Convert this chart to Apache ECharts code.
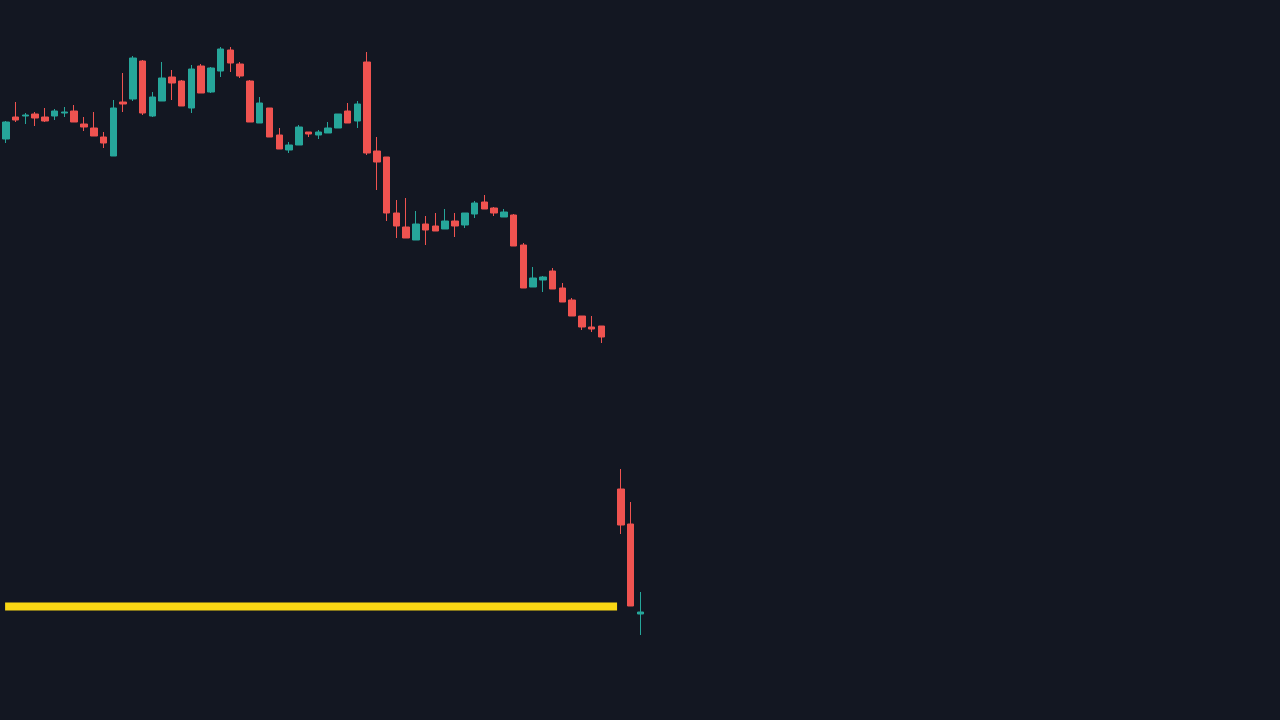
<!DOCTYPE html>
<html>
<head>
<meta charset="utf-8">
<script src="https://cdn.jsdelivr.net/npm/echarts@6/dist/echarts.min.js"></script>
<style>
html,body{margin:0;padding:0;background:#131722;}
#chart{width:1280px;height:720px;}
</style>
</head>
<body>
<div id="chart"></div>
<script>
// Slot count on the time axis (bars + empty right margin)
const slotCount = 131;
const categories = Array.from({length: slotCount}, (_, i) => String(i + 1));

const opens  = [58.1,60.3,60.4,60.6,60.3,60.4,60.7,60.9,59.6,59.2,58.3,56.4,61.8,62.1,65.9,60.4,61.9,64.3,63.9,61.2,
                65.4,62.8,64.9,67.0,65.6,63.9,59.7,61.2,58.5,57.0,57.5,58.8,58.5,58.7,59.2,60.9,59.9,65.8,56.9,56.3,
                50.7,49.3,48.0,49.6,49.4,49.1,49.9,49.5,50.6,51.8,51.2,50.3,50.5,47.5,43.3,44.0,44.9,43.2,42.0,40.4,
                39.3,39.4,null,23.1,19.6,10.6];
const closes = [59.8,60.0,60.5,60.2,59.9,60.9,60.8,59.8,59.3,58.4,57.7,61.2,61.6,66.2,60.7,62.3,64.2,63.7,61.4,65.1,
                62.7,65.2,67.1,65.7,64.4,59.8,61.7,58.3,57.1,57.5,59.3,58.6,58.8,59.2,60.6,59.7,61.6,56.7,55.8,50.7,
                49.4,48.2,49.6,49.0,48.9,49.9,49.4,50.7,51.7,51.1,50.7,50.8,47.4,43.2,44.2,44.3,43.1,41.8,40.4,39.3,
                39.1,38.3,null,19.5,11.4,10.8];
const lows   = [57.7,59.8,59.6,59.4,59.8,60.0,60.3,59.8,58.9,58.4,57.2,56.4,60.8,61.9,60.5,60.3,61.9,62.0,61.4,60.7,
                62.7,62.7,64.3,64.8,64.2,59.8,59.7,58.3,57.1,56.7,57.5,58.3,58.1,58.7,59.2,59.7,59.2,56.5,53.0,49.9,
                48.2,48.2,48.0,47.5,48.9,49.1,48.3,49.2,50.2,51.1,50.4,50.3,47.4,43.2,43.3,42.8,43.1,41.8,40.4,39.0,
                38.8,37.7,null,18.6,11.4,8.5];
const highs  = [59.9,61.8,60.7,60.8,61.2,61.1,61.3,61.5,60.3,60.8,58.8,62.0,64.7,66.4,66.0,62.8,65.8,65.0,64.0,65.5,
                65.6,65.3,67.3,67.3,65.8,64.0,62.3,61.2,59.2,57.8,59.5,58.8,59.0,59.8,60.6,61.7,61.9,66.8,58.3,56.3,
                52.0,52.2,50.9,50.4,50.7,51.1,50.7,50.7,51.9,52.5,51.3,51.1,50.6,47.7,45.3,44.4,45.2,43.7,42.2,40.4,
                40.4,39.4,null,25.1,21.8,12.8];

// Horizontal yellow level: price and the span (in slot units) it covers
const levelPrice = 11.35;
const levelStart = -0.08;
const levelEnd = 62.6;

const candleData = opens.map((o, i) =>
  o === null ? '-' : [o, closes[i], lows[i], highs[i]]);

const chart = echarts.init(document.getElementById('chart'));
chart.setOption({
  backgroundColor: '#131722',
  animation: false,
  grid: {left: 1, right: 0, top: 0, bottom: 0},
  xAxis: [
    {type: 'category', data: categories, boundaryGap: true, show: false},
    {type: 'value', min: -0.5, max: slotCount - 0.5, show: false}
  ],
  yAxis: {type: 'value', min: 0, max: 72, show: false, splitLine: {show: false}},
  series: [
    {
      type: 'line',
      xAxisIndex: 1,
      data: [[levelStart, levelPrice], [levelEnd, levelPrice]],
      symbol: 'none',
      lineStyle: {color: '#fad714', width: 8, cap: 'butt'},
      z: 1
    },
    {
      type: 'candlestick',
      xAxisIndex: 0,
      data: candleData,
      barWidth: 7,
      itemStyle: {
        color: '#26a69a',
        color0: '#ef5350',
        borderColor: '#26a69a',
        borderColor0: '#ef5350',
        borderWidth: 1
      },
      z: 2
    }
  ]
});
</script>
</body>
</html>
